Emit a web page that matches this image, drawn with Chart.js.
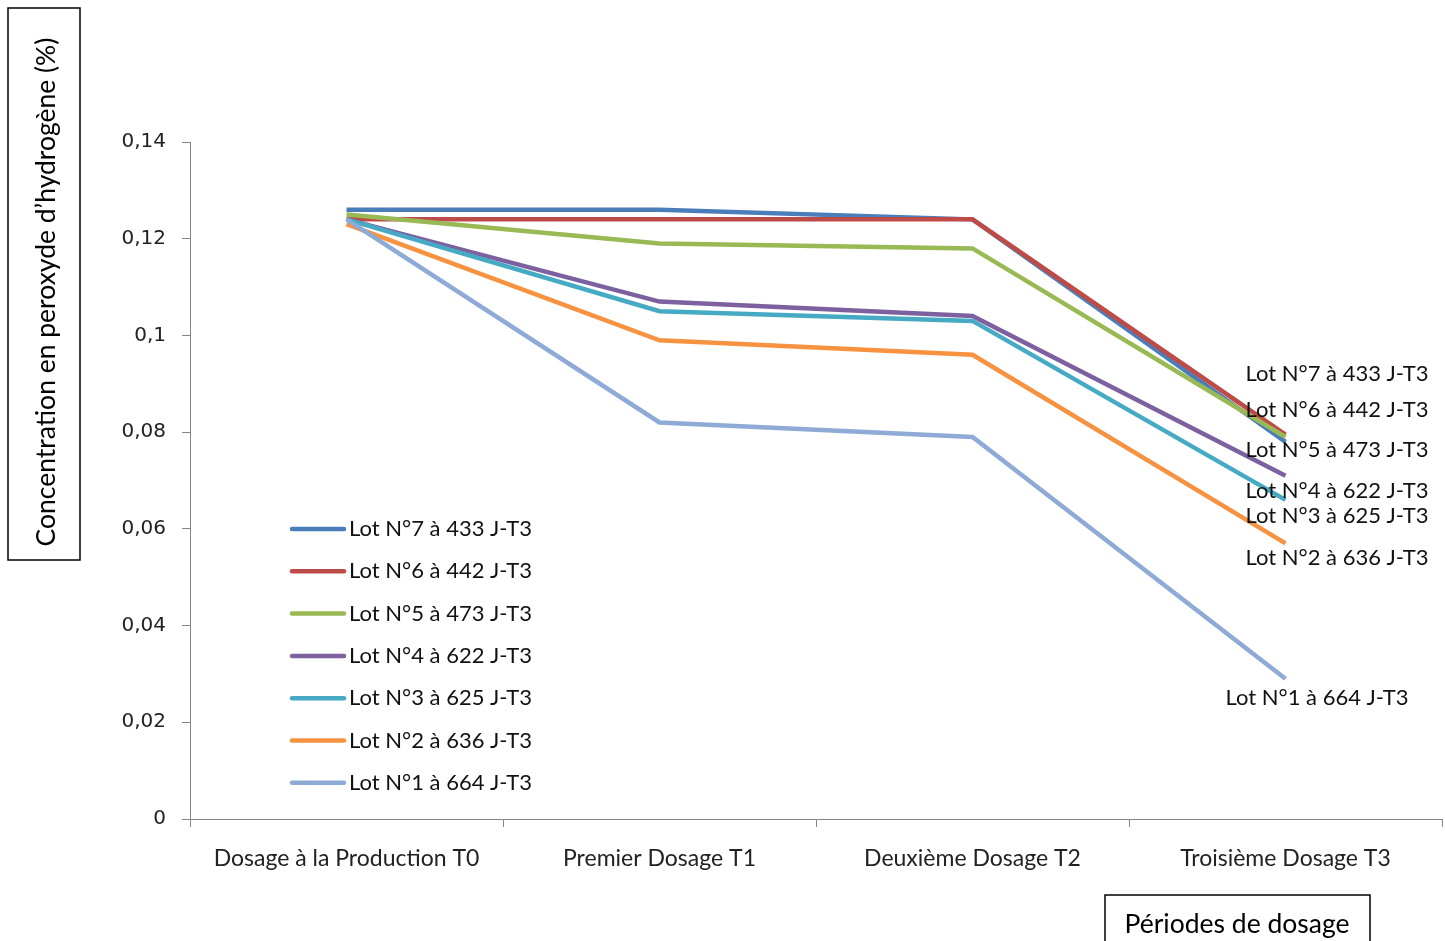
<!DOCTYPE html>
<html>
<head>
<meta charset="utf-8">
<script src="https://cdn.jsdelivr.net/npm/chart.js@4"></script>
<style>
  html, body { margin: 0; padding: 0; background: #fff; }
  #wrap { width: 1445px; height: 941px; }
</style>
</head>
<body>
<div id="wrap"><canvas id="c" width="1445" height="941"></canvas></div>
<script>
// Sampling periods (x categories)
const periods = ['Dosage à la Production T0', 'Premier Dosage T1', 'Deuxième Dosage T2', 'Troisième Dosage T3'];

// Series names
const lotNames = [
  'Lot N°7 à 433 J-T3',
  'Lot N°6 à 442 J-T3',
  'Lot N°5 à 473 J-T3',
  'Lot N°4 à 622 J-T3',
  'Lot N°3 à 625 J-T3',
  'Lot N°2 à 636 J-T3',
  'Lot N°1 à 664 J-T3'
];

// Hydrogen peroxide concentration (%) per lot
const lot7 = [0.126, 0.126, 0.124, 0.078];
const lot6 = [0.124, 0.124, 0.124, 0.0795];
const lot5 = [0.125, 0.119, 0.118, 0.079];
const lot4 = [0.124, 0.107, 0.104, 0.071];
const lot3 = [0.124, 0.105, 0.103, 0.066];
const lot2 = [0.123, 0.099, 0.096, 0.057];
const lot1 = [0.124, 0.082, 0.079, 0.029];

// Y axis ticks
const yTicks = [0, 0.02, 0.04, 0.06, 0.08, 0.1, 0.12, 0.14];

const seriesValues = [lot7, lot6, lot5, lot4, lot3, lot2, lot1];
const seriesColors = ['#4a7ebb', '#be4b48', '#98b954', '#7d60a0', '#46aac5', '#f69240', '#8eaad6'];

// End-of-line label placement (pixel offsets from the last point)
const endLabelOffsets = [
  [-40, -68], [-40, -25], [-40, 13], [-40, 15], [-40, 16], [-40, 15], [-60, 19]
];

const frFmt = v => String(Math.round(v * 100) / 100).replace('.', ',');

const datasets = seriesValues.map((vals, i) => ({
  label: lotNames[i],
  data: vals,
  borderColor: seriesColors[i],
  backgroundColor: seriesColors[i],
  borderWidth: 4.5,
  pointRadius: 0,
  pointHoverRadius: 0,
  tension: 0,
  fill: false,
  order: -i
}));

const overlayPlugin = {
  id: 'overlay',
  afterDraw(chart) {
    const ctx = chart.ctx;
    ctx.save();

    // End-of-line labels next to the T3 points
    ctx.font = '22px Lato';
    ctx.fillStyle = '#111';
    ctx.textAlign = 'left';
    ctx.textBaseline = 'middle';
    chart.data.datasets.forEach((ds, i) => {
      const meta = chart.getDatasetMeta(i);
      const pt = meta.data[meta.data.length - 1];
      const off = endLabelOffsets[i];
      ctx.fillText(ds.label, pt.x + off[0], pt.y + off[1]);
    });

    // Legend inside the plot area
    const lx = 292, ly = 529, step = 42.3;
    chart.data.datasets.forEach((ds, i) => {
      const y = ly + i * step;
      ctx.strokeStyle = ds.borderColor;
      ctx.lineWidth = 4.5;
      ctx.lineCap = 'round';
      ctx.beginPath();
      ctx.moveTo(lx, y);
      ctx.lineTo(lx + 52, y);
      ctx.stroke();
      ctx.fillStyle = '#111';
      ctx.fillText(ds.label, lx + 57, y);
    });

    // Y axis title in a framed box
    ctx.lineWidth = 1.5;
    ctx.strokeStyle = '#000';
    ctx.strokeRect(8, 8, 72, 552);
    ctx.save();
    ctx.translate(46, 292);
    ctx.rotate(-Math.PI / 2);
    ctx.font = '26.5px Lato';
    ctx.fillStyle = '#000';
    ctx.textAlign = 'center';
    ctx.textBaseline = 'middle';
    ctx.fillText('Concentration en peroxyde d\u2019hydrogène (%)', 0, 0);
    ctx.restore();

    // X axis title in a framed box
    ctx.strokeRect(1105, 895, 265, 60);
    ctx.font = '26.5px Lato';
    ctx.fillStyle = '#000';
    ctx.textAlign = 'center';
    ctx.textBaseline = 'middle';
    ctx.fillText('Périodes de dosage', 1237, 924);

    ctx.restore();
  }
};

new Chart(document.getElementById('c'), {
  type: 'line',
  data: { labels: periods, datasets },
  options: {
    responsive: false,
    animation: false,
    layout: { padding: { left: 0, top: 142, right: 3, bottom: 0 } },
    plugins: {
      legend: { display: false },
      tooltip: { enabled: false }
    },
    scales: {
      x: {
        offset: true,
        grid: {
          offset: true,
          drawOnChartArea: false,
          drawTicks: true,
          tickLength: 8,
          color: '#868686'
        },
        border: { color: '#868686', width: 1 },
        ticks: {
          color: '#222',
          font: { family: 'Lato', size: 23 },
          padding: 18,
          maxRotation: 0,
          autoSkip: false
        },
        afterFit(scale) { scale.height = 122; }
      },
      y: {
        min: 0,
        max: 0.14,
        afterBuildTicks(scale) { scale.ticks = yTicks.map(v => ({ value: v })); },
        grid: {
          drawOnChartArea: false,
          drawTicks: true,
          tickLength: 8,
          color: '#868686'
        },
        border: { color: '#868686', width: 1 },
        ticks: {
          color: '#222',
          font: { family: 'DejaVu Sans', size: 20 },
          padding: 16,
          callback: v => frFmt(v)
        },
        afterFit(scale) { scale.width = 190; }
      }
    }
  },
  plugins: [overlayPlugin]
});
</script>
</body>
</html>
